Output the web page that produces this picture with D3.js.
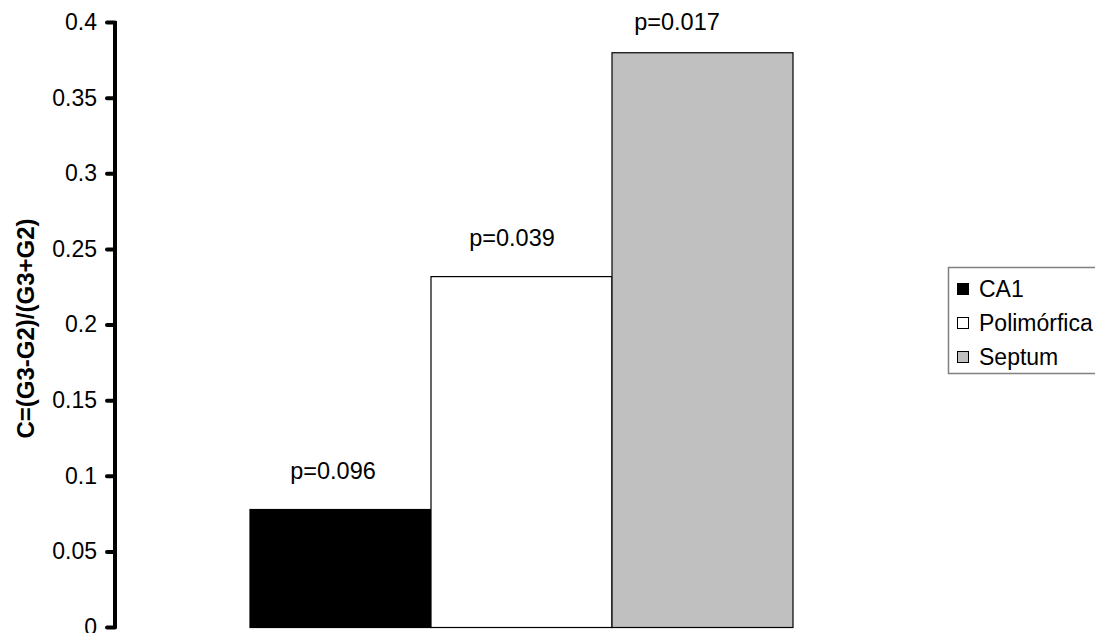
<!DOCTYPE html>
<html>
<head>
<meta charset="utf-8">
<script src="https://cdn.jsdelivr.net/npm/d3@7"></script>
<style>
html,body{margin:0;padding:0;background:#fff;}
svg{display:block;font-family:"Liberation Sans",Arial,sans-serif;}
</style>
</head>
<body>
<svg id="chart" width="1095" height="633"></svg>
<script>
const categories = ["CA1", "Polimórfica", "Septum"];
const values = [0.078, 0.232, 0.380];
const pLabels = ["p=0.096", "p=0.039", "p=0.017"];
const colors = ["#000000", "#ffffff", "#c0c0c0"];
const yTicks = [0, 0.05, 0.1, 0.15, 0.2, 0.25, 0.3, 0.35, 0.4];
const yTickLabels = ["0", "0.05", "0.1", "0.15", "0.2", "0.25", "0.3", "0.35", "0.4"];
const yTitle = "C=(G3-G2)/(G3+G2)";

// label horizontal nudges (layout, px)
const labelDx = [-7, -9, -25];

const svg = d3.select("#chart");
const plotLeft = 116, plotRight = 926;

const y = d3.scaleLinear().domain([0, 0.4]).range([627, 22]);
const xGroup = d3.scaleBand().domain(["g"]).range([plotLeft, plotRight]).paddingInner(0.2).paddingOuter(0.2);
const x = d3.scaleBand().domain(categories).range([xGroup("g") - 1.5, xGroup("g") + xGroup.bandwidth() + 1.5]).padding(0);

// bars
svg.append("g").selectAll("rect").data(categories).join("rect")
  .attr("x", d => x(d) + 0.5)
  .attr("y", (d, i) => y(values[i]) + 0.5)
  .attr("width", x.bandwidth())
  .attr("height", (d, i) => y(0) - y(values[i]))
  .attr("fill", (d, i) => colors[i])
  .attr("stroke", "#000")
  .attr("stroke-width", 1.2);

// p labels
svg.append("g").selectAll("text").data(categories).join("text")
  .attr("x", (d, i) => x(d) + x.bandwidth() / 2 + labelDx[i])
  .attr("y", (d, i) => Math.max(y(values[i]) - 30, 30))
  .attr("text-anchor", "middle")
  .attr("font-size", 23.5)
  .attr("fill", "#000")
  .text((d, i) => pLabels[i]);

// y axis
const yAxis = d3.axisLeft(y).tickValues(yTicks).tickFormat((d, i) => yTickLabels[i]).tickSize(8).tickPadding(10);
const ag = svg.append("g").attr("transform", `translate(${plotLeft - 1},0)`).call(yAxis);
ag.select(".domain").remove();
ag.append("line").attr("x1", 0).attr("x2", 0).attr("y1", y(0) + 1).attr("y2", y(0.4) - 1)
  .attr("stroke", "#000").attr("stroke-width", 4);
ag.selectAll(".tick line").attr("stroke", "#000").attr("stroke-width", 4).attr("stroke-linecap", "round");
ag.selectAll(".tick text").attr("font-size", 23).attr("font-family", "Liberation Sans, Arial, sans-serif").attr("fill", "#000");

// y title
svg.append("text")
  .attr("transform", `translate(34,${(y(0) + y(0.4)) / 2 + 4}) rotate(-90)`)
  .attr("text-anchor", "middle")
  .attr("font-size", 24)
  .attr("font-weight", "bold")
  .text(yTitle);

// legend
const lg = svg.append("g");
lg.append("rect").attr("x", 948.5).attr("y", 267.5).attr("width", 160).attr("height", 106)
  .attr("fill", "#fff").attr("stroke", "#808080").attr("stroke-width", 1.5);
const ly = d3.scalePoint().domain(categories).range([289, 357]);
const items = lg.selectAll("g.item").data(categories).join("g").attr("class", "item")
  .attr("transform", d => `translate(0,${ly(d)})`);
items.append("rect").attr("x", 957.5).attr("y", -5.5).attr("width", 11).attr("height", 11)
  .attr("fill", (d, i) => colors[i]).attr("stroke", "#000").attr("stroke-width", 1);
items.append("text").attr("x", 979).attr("y", 0).attr("dy", "0.36em")
  .attr("font-size", 23).text(d => d);
</script>
</body>
</html>
